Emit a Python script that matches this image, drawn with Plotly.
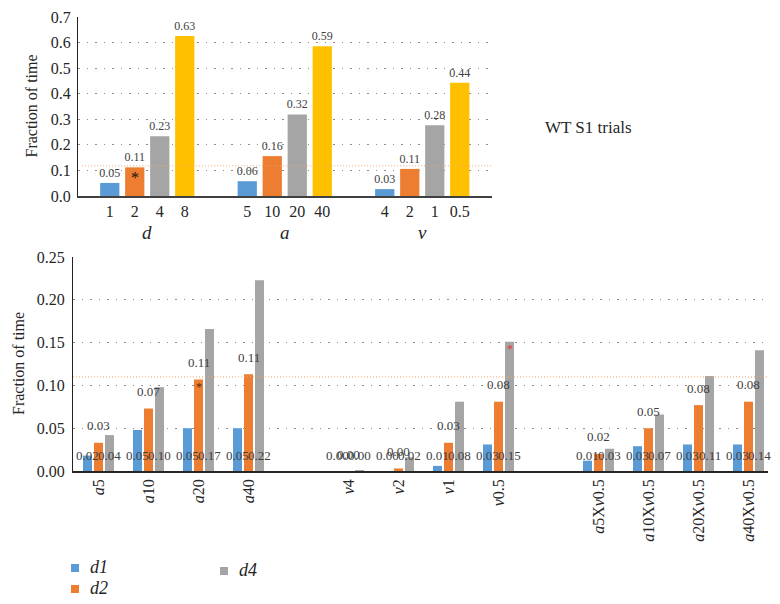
import plotly.graph_objects as go

W, H = 780, 604          # target picture size
PAGE_OFF = 8             # default body margin of the html page
FIG_W, FIG_H = W - PAGE_OFF, H - PAGE_OFF
FONT = "Liberation Serif"
TXT = "#262626"
LBL = "#404040"

# ---------------- data: top panel ----------------
top_groups = ["d", "a", "v"]
top_ticks = [["1", "2", "4", "8"], ["5", "10", "20", "40"], ["4", "2", "1", "0.5"]]
top_d = [0.051, 0.112, 0.234, 0.626]
top_a = [0.058, 0.156, 0.319, 0.586]
top_v = [0.027, 0.106, 0.277, 0.443]
top_colors = ["#5B9BD5", "#ED7D31", "#A5A5A5", "#FFC000"]
top_chance = 0.118

# ---------------- data: bottom panel ----------------
bot_categories = [
    "<i>a</i>5", "<i>a</i>10", "<i>a</i>20", "<i>a</i>40",
    "<i>v</i>4", "<i>v</i>2", "<i>v</i>1", "<i>v</i>0.5",
    "<i>a</i>5X<i>v</i>0.5", "<i>a</i>10X<i>v</i>0.5", "<i>a</i>20X<i>v</i>0.5", "<i>a</i>40X<i>v</i>0.5",
]
series_names = ["d1", "d2", "d4"]
d1 = [0.018, 0.048, 0.050, 0.050, 0.000, 0.000, 0.006, 0.031, 0.012, 0.029, 0.031, 0.031]
d2 = [0.033, 0.073, 0.107, 0.113, 0.000, 0.003, 0.033, 0.081, 0.020, 0.050, 0.077, 0.081]
d4 = [0.042, 0.098, 0.166, 0.223, 0.001, 0.016, 0.081, 0.151, 0.026, 0.066, 0.111, 0.141]
series_colors = ["#5B9BD5", "#ED7D31", "#A5A5A5"]
bot_chance = 0.11

# ---------------- positions ----------------
top_vals = [top_d, top_a, top_v]
top_pos = [[g * 5.5 + i for i in range(4)] for g in range(3)]
bot_pos = [(k // 4) * 5 + (k % 4) for k in range(len(bot_categories))]

def fx(p):
    return (p - PAGE_OFF) / FIG_W

def fy(p):
    return 1 - (p - PAGE_OFF) / FIG_H

fig = go.Figure()

# top bars
for g in range(3):
    fig.add_trace(go.Bar(
        x=top_pos[g], y=top_vals[g], width=0.77,
        marker=dict(color=top_colors, line=dict(width=0)),
        text=[f"{v:.2f}" for v in top_vals[g]], textposition="outside",
        textfont=dict(family=FONT, size=12, color=LBL),
        constraintext="none", cliponaxis=False, showlegend=False,
        xaxis="x", yaxis="y", hoverinfo="skip",
    ))

# bottom bars
offsets = [-0.31, -0.09, 0.13]
centers = [-0.22, 0.0, 0.22]
for s, vals in enumerate([d1, d2, d4]):
    fig.add_trace(go.Bar(
        x=bot_pos, y=vals, width=0.18, offset=offsets[s], name=series_names[s],
        marker=dict(color=series_colors[s], line=dict(width=0)),
        showlegend=False, xaxis="x2", yaxis="y2", hoverinfo="skip",
    ))

ann = []
shapes = []

def A(**kw):
    d = dict(showarrow=False, xanchor="center", yanchor="middle")
    d.update(kw)
    ann.append(d)

# bottom data labels
for k, p in enumerate(bot_pos):
    for s, vals in ((0, d1), (2, d4)):
        A(x=p + centers[s], y=0, xref="x2", yref="y2", yshift=16,
          text=f"{vals[k]:.2f}", font=dict(family=FONT, size=13, color=LBL))
    A(x=p, y=d2[k], xref="x2", yref="y2", yshift=17,
      text=f"{d2[k]:.2f}", font=dict(family=FONT, size=13, color=LBL))

# group labels top
for g, name in enumerate(top_groups):
    A(x=sum(top_pos[g]) / 4, y=fy(232), xref="x", yref="paper",
      text=f"<i>{name}</i>", font=dict(family=FONT, size=19, color=TXT))

# asterisks
A(x=top_pos[0][1], y=top_d[1], xref="x", yref="y", yshift=-10,
  text="*", font=dict(family=FONT, size=16, color="#111111"))
A(x=bot_pos[2] + centers[1], y=d2[2], xref="x2", yref="y2", yshift=-8,
  text="*", font=dict(family=FONT, size=12, color="#5a2a10"))
A(x=bot_pos[7] + centers[2], y=d4[7], xref="x2", yref="y2", yshift=-7,
  text="*", font=dict(family=FONT, size=12, color="#E8392B"))

# y titles
A(x=fx(31), y=fy(106.5), xref="paper", yref="paper", text="Fraction of time",
  textangle=-90, font=dict(family=FONT, size=16, color=TXT))
A(x=fx(18), y=fy(364), xref="paper", yref="paper", text="Fraction of time",
  textangle=-90, font=dict(family=FONT, size=16, color=TXT))
# side title
A(x=fx(588), y=fy(127), xref="paper", yref="paper", text="WT S1 trials",
  font=dict(family=FONT, size=17, color=TXT))

# legend (drawn as squares + labels so it does not push the margins)
legend_spots = [(75, 568), (75, 589), (224, 571)]
for s, name in enumerate(series_names):
    cx, cy = legend_spots[s]
    shapes.append(dict(type="rect", xref="paper", yref="paper",
                       x0=fx(cx - 4), x1=fx(cx + 4), y0=fy(cy + 4), y1=fy(cy - 4),
                       fillcolor=series_colors[s], line=dict(width=0)))
    A(x=fx(cx + 13), y=fy(cy - 1), xref="paper", yref="paper", xanchor="left",
      text=f"<i>{name}</i>", font=dict(family=FONT, size=18, color=TXT))

shapes += [
    dict(type="line", xref="x domain", yref="y", x0=0.01, x1=1, y0=top_chance, y1=top_chance,
         line=dict(color="#F4A46E", width=1, dash="1px,2px")),
    dict(type="line", xref="x2 domain", yref="y2", x0=0, x1=1, y0=bot_chance, y1=bot_chance,
         line=dict(color="#F4A46E", width=1, dash="1px,2px")),
]

grid = dict(showgrid=True, gridcolor="#8c8c8c", gridwidth=1, griddash="1.5px,7px")

fig.update_layout(
    width=FIG_W, height=FIG_H, margin=dict(l=0, r=0, t=0, b=0, autoexpand=False),
    paper_bgcolor="white", plot_bgcolor="white",
    barmode="overlay", showlegend=False,
    font=dict(family=FONT, color=TXT),
    xaxis=dict(domain=[fx(78), fx(492)], range=[-1.27, 15.29],
               tickvals=[p for g in top_pos for p in g],
               ticktext=[t for g in top_ticks for t in g],
               tickfont=dict(family=FONT, size=16, color=TXT),
               showline=True, linecolor="#404040", linewidth=1.5,
               showgrid=False, zeroline=False, ticks="", anchor="y", automargin=False),
    yaxis=dict(domain=[fy(196), fy(17)], range=[0, 0.7001], dtick=0.1, tickformat=".1f",
               tickfont=dict(family=FONT, size=16, color=TXT),
               showline=True, linecolor="#222222", linewidth=1,
               zeroline=False, ticks="", ticklabelstandoff=3, anchor="x", automargin=False, **grid),
    xaxis2=dict(domain=[fx(73), fx(768)], range=[-0.51, 13.39],
                tickvals=bot_pos, ticktext=bot_categories, tickangle=-90,
                tickfont=dict(family=FONT, size=16, color=TXT),
                showline=True, linecolor="#262626", linewidth=1.5,
                showgrid=False, zeroline=False, ticks="", anchor="y2", automargin=False),
    yaxis2=dict(domain=[fy(471), fy(257)], range=[0, 0.2501], dtick=0.05, tickformat=".2f",
                tickfont=dict(family=FONT, size=16, color=TXT),
                showline=True, linecolor="#222222", linewidth=1,
                zeroline=False, ticks="", ticklabelstandoff=4, anchor="x2", automargin=False, **grid),
    annotations=ann, shapes=shapes,
)

fig.write_html("out.html")
